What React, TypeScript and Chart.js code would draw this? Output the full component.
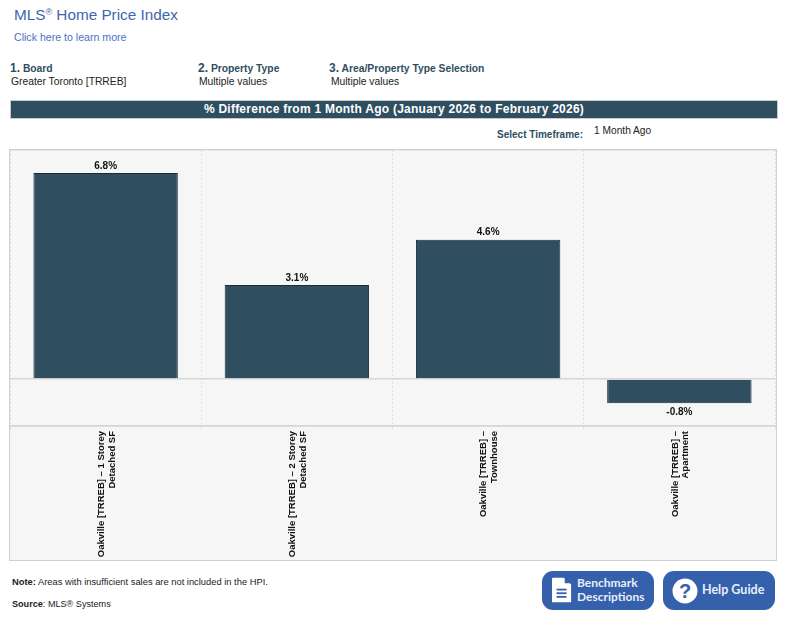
import React, { useEffect, useRef } from "react";
import { Chart, registerables } from "chart.js";

Chart.register(...registerables);

const categories = [
  ["Oakville [TRREB] – 1 Storey", "Detached SF"],
  ["Oakville [TRREB] – 2 Storey", "Detached SF"],
  ["Oakville [TRREB] –", "Townhouse"],
  ["Oakville [TRREB] –", "Apartment"],
];
const pctDifference = [6.8, 3.1, 4.6, -0.8];
const yMin = -1.55;
const yMax = 7.56;

const FONT = '"Liberation Sans", Arial, sans-serif';
const BTN_FONT = 'Lato, "Open Sans", sans-serif';
const NAVY = "#2f4e60";
const BLUE = "#3560ab";

const valueLabels = {
  id: "valueLabels",
  afterDatasetsDraw(chart: any) {
    const { ctx } = chart;
    const meta = chart.getDatasetMeta(0);
    ctx.save();
    ctx.font = `bold 10px ${FONT}`;
    ctx.fillStyle = "#111";
    ctx.textAlign = "center";
    ctx.textBaseline = "middle";
    meta.data.forEach((bar: any, i: number) => {
      const v = pctDifference[i];
      ctx.fillText(`${v.toFixed(1)}%`, bar.x, v >= 0 ? bar.y - 7 : bar.y + 9);
    });
    ctx.restore();
  },
};

const abs = (left: number, top: number, extra: React.CSSProperties = {}): React.CSSProperties => ({
  position: "absolute",
  left,
  top,
  whiteSpace: "nowrap",
  lineHeight: 1,
  ...extra,
});

function Heading({ left, num, text }: { left: number; num: string; text: string }) {
  return (
    <div style={abs(left, 62, { color: NAVY, fontWeight: "bold", fontSize: 10.3 })}>
      <span style={{ fontSize: 12 }}>{num}</span> {text}
    </div>
  );
}

export default function App() {
  const ref = useRef<HTMLCanvasElement>(null);
  useEffect(() => {
    const chart = new Chart(ref.current!, {
      type: "bar",
      data: {
        labels: categories,
        datasets: [
          {
            data: pctDifference,
            backgroundColor: NAVY,
            borderColor: "#182c38",
            borderWidth: 1,
            barPercentage: 0.755,
            categoryPercentage: 1,
          },
        ],
      },
      plugins: [valueLabels],
      options: {
        animation: false,
        responsive: false,
        devicePixelRatio: 1,
        layout: { padding: { right: 1 } },
        plugins: { legend: { display: false }, tooltip: { enabled: false }, title: { display: false } },
        scales: {
          x: {
            grid: {
              color: "#e0e0e0",
              lineWidth: 1,
              offset: true,
              drawTicks: true,
              tickLength: 4,
            },
            border: { display: true, color: "#d6d6d6", width: 1.5, dash: [2, 2] },
            ticks: {
              minRotation: 90,
              maxRotation: 90,
              autoSkip: false,
              color: "#111",
              padding: 1,
              labelOffset: -4.5,
              font: { family: FONT, size: 9.5, weight: "bold", lineHeight: 1.15 },
            },
            afterFit(axis: any) {
              axis.height = 134;
            },
          },
          y: {
            min: yMin,
            max: yMax,
            afterFit(axis: any) {
              axis.width = 0;
            },
            ticks: { display: false, stepSize: 10 },
            border: { display: false },
            grid: {
              drawTicks: false,
              color: "#d6d6d6",
              lineWidth: 1.5,
            },
          },
        },
      } as any,
    });
    return () => chart.destroy();
  }, []);

  return (
    <div
      style={{
        position: "fixed",
        left: 0,
        top: 0,
        width: 785,
        height: 629,
        overflow: "hidden",
        background: "#fff",
        fontFamily: FONT,
        color: "#222",
      }}
    >
      <div style={abs(14, 7, { color: "#3d66ad", fontSize: 15.3 })}>
        MLS<sup style={{ fontSize: 9, verticalAlign: "baseline", position: "relative", top: -5 }}>®</sup> Home Price Index
      </div>
      <div style={abs(14, 32, { color: "#4a72c4", fontSize: 10.6 })}>Click here to learn more</div>

      <Heading left={10} num="1." text="Board" />
      <Heading left={198} num="2." text="Property Type" />
      <Heading left={329} num="3." text="Area/Property Type Selection" />
      <div style={abs(11, 77, { fontSize: 10.3 })}>Greater Toronto [TRREB]</div>
      <div style={abs(199, 77, { fontSize: 10.3 })}>Multiple values</div>
      <div style={abs(331, 77, { fontSize: 10.3 })}>Multiple values</div>

      <div
        style={{
          position: "absolute",
          left: 10,
          top: 100,
          width: 768,
          height: 19,
          boxSizing: "border-box",
          background: NAVY,
          border: "1px solid #c4ccd1",
          color: "#fff",
          fontWeight: "bold",
          fontSize: 12,
          lineHeight: "16px",
          textAlign: "center",
          letterSpacing: 0.25,
        }}
      >
        % Difference from 1 Month Ago (January 2026 to February 2026)
      </div>

      <div style={abs(497, 130, { color: NAVY, fontWeight: "bold", fontSize: 10 })}>Select Timeframe:</div>
      <div style={abs(594, 126, { fontSize: 10.2 })}>1 Month Ago</div>

      <div
        style={{
          position: "absolute",
          left: 9,
          top: 149,
          width: 768,
          height: 412,
          boxSizing: "border-box",
          background: "#f6f6f6",
          border: "1.5px solid #d0d0d0",
        }}
      />
      <canvas ref={ref} width={766} height={410} style={{ position: "absolute", left: 10, top: 150, width: 766, height: 410 }} />

      <div style={abs(12, 578, { fontSize: 9.35, color: "#222" })}>
        <b>Note:</b> Areas with insufficient sales are not included in the HPI.
      </div>
      <div style={abs(12, 600, { fontSize: 9.1, color: "#222" })}>
        <b>Source</b>: MLS® Systems
      </div>

      <div
        style={{
          position: "absolute",
          left: 542,
          top: 571,
          width: 112,
          height: 39,
          borderRadius: 11,
          background: BLUE,
        }}
      >
        <svg width="20" height="27" viewBox="0 0 22 28" style={{ position: "absolute", left: 10, top: 6 }}>
          <path d="M1 0 H13 L21 7 V26 a1 1 0 0 1 -1 1 H1 a1 1 0 0 1 -1 -1 V1 a1 1 0 0 1 1 -1 Z" fill="#fff" />
          <path d="M14 0 L21 6 H14 Z" fill={BLUE} />
          <rect x="5" y="12" width="11" height="2" fill={BLUE} />
          <rect x="5" y="16" width="11" height="2" fill={BLUE} />
          <rect x="5" y="20" width="11" height="2" fill={BLUE} />
        </svg>
        <div
          style={{
            position: "absolute",
            left: 35,
            top: 5,
            color: "#e8eefa",
            fontWeight: "bold",
            fontSize: 12,
            lineHeight: "14px",
            fontFamily: BTN_FONT,
          }}
        >
          Benchmark
          <br />
          Descriptions
        </div>
      </div>

      <div
        style={{
          position: "absolute",
          left: 663,
          top: 571,
          width: 112,
          height: 39,
          borderRadius: 11,
          background: BLUE,
        }}
      >
        <svg width="26" height="26" viewBox="0 0 26 26" style={{ position: "absolute", left: 9, top: 7 }}>
          <circle cx="13" cy="13" r="12.5" fill="#fff" />
          <text x="13" y="20" textAnchor="middle" fontSize="20" fontWeight="bold" fill={BLUE} fontFamily={FONT}>
            ?
          </text>
        </svg>
        <div
          style={{
            position: "absolute",
            left: 39,
            top: 12,
            color: "#e8eefa",
            fontWeight: "bold",
            fontSize: 12.5,
            lineHeight: "14px",
            whiteSpace: "nowrap",
            fontFamily: BTN_FONT,
          }}
        >
          Help Guide
        </div>
      </div>
    </div>
  );
}
